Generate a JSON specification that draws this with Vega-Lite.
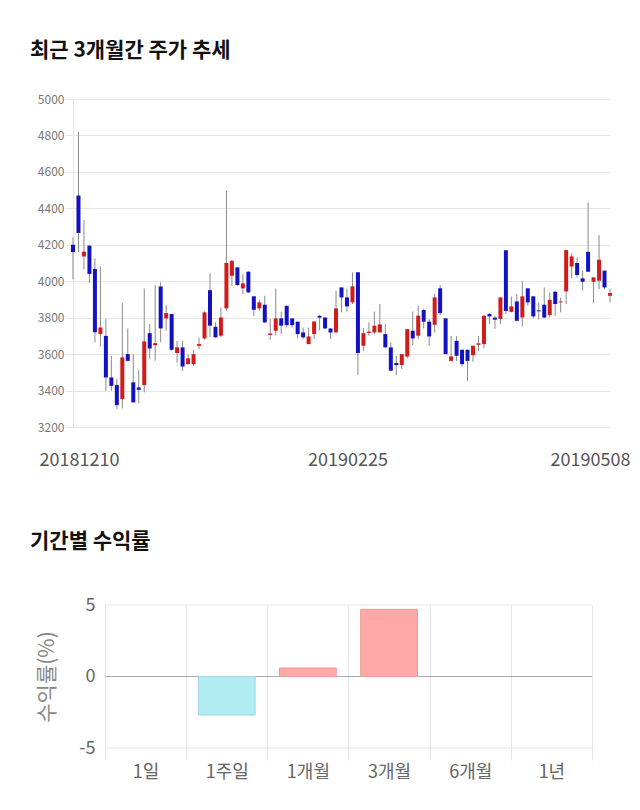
{
  "$schema": "https://vega.github.io/schema/vega-lite/v6.json",
  "background": "white",
  "padding": {"left": 30, "top": 40, "right": 0, "bottom": 0},
  "autosize": {"type": "pad"},
  "spacing": 62,
  "align": "none",
  "config": {
    "view": {"stroke": null},
    "font": "Noto Sans CJK KR",
    "title": {"anchor": "start", "frame": "group", "dx": -43, "fontSize": 21, "fontWeight": "bold", "color": "#111111", "font": "Noto Sans CJK KR"}
  },
  "vconcat": [
    {
      "title": {"text": "최근 3개월간 주가 추세", "offset": 32},
      "width": 537,
      "height": 328,
      "data": {"values": [
        {"d":"20181210","o":4200,"h":4240,"l":4010,"c":4160},
        {"d":"20181211","o":4470,"h":4820,"l":4160,"c":4265},
        {"d":"20181212","o":4136,"h":4335,"l":4065,"c":4162},
        {"d":"20181213","o":4195,"h":4200,"l":3990,"c":4040},
        {"d":"20181214","o":4067,"h":4125,"l":3664,"c":3720},
        {"d":"20181217","o":3710,"h":4081,"l":3642,"c":3746},
        {"d":"20181218","o":3700,"h":3792,"l":3399,"c":3472},
        {"d":"20181219","o":3472,"h":3591,"l":3399,"c":3426},
        {"d":"20181220","o":3430,"h":3463,"l":3298,"c":3320},
        {"d":"20181221","o":3353,"h":3880,"l":3302,"c":3582},
        {"d":"20181224","o":3600,"h":3741,"l":3560,"c":3563},
        {"d":"20181226","o":3445,"h":3600,"l":3335,"c":3335},
        {"d":"20181227","o":3417,"h":3514,"l":3331,"c":3404},
        {"d":"20181228","o":3430,"h":3960,"l":3390,"c":3670},
        {"d":"20190102","o":3715,"h":3765,"l":3576,"c":3631},
        {"d":"20190103","o":3649,"h":3979,"l":3563,"c":3660},
        {"d":"20190104","o":3971,"h":3995,"l":3664,"c":3741},
        {"d":"20190107","o":3796,"h":3870,"l":3728,"c":3825},
        {"d":"20190108","o":3820,"h":3820,"l":3618,"c":3624},
        {"d":"20190109","o":3606,"h":3672,"l":3553,"c":3637},
        {"d":"20190110","o":3637,"h":3673,"l":3508,"c":3532},
        {"d":"20190111","o":3546,"h":3600,"l":3540,"c":3577},
        {"d":"20190114","o":3545,"h":3624,"l":3536,"c":3600},
        {"d":"20190115","o":3645,"h":3690,"l":3628,"c":3655},
        {"d":"20190116","o":3686,"h":3835,"l":3680,"c":3829},
        {"d":"20190117","o":3951,"h":4043,"l":3692,"c":3756},
        {"d":"20190118","o":3750,"h":3774,"l":3690,"c":3692},
        {"d":"20190121","o":3701,"h":3856,"l":3692,"c":3801},
        {"d":"20190122","o":3851,"h":4497,"l":3838,"c":4100},
        {"d":"20190123","o":4030,"h":4115,"l":3975,"c":4112},
        {"d":"20190124","o":4076,"h":4080,"l":3975,"c":3979},
        {"d":"20190125","o":3961,"h":4040,"l":3930,"c":3988},
        {"d":"20190128","o":4052,"h":4055,"l":3935,"c":3939},
        {"d":"20190129","o":3917,"h":3917,"l":3810,"c":3843},
        {"d":"20190130","o":3851,"h":3898,"l":3838,"c":3884},
        {"d":"20190131","o":3871,"h":3920,"l":3770,"c":3774},
        {"d":"20190201","o":3705,"h":3792,"l":3679,"c":3713},
        {"d":"20190207","o":3728,"h":3960,"l":3704,"c":3796},
        {"d":"20190208","o":3796,"h":3833,"l":3710,"c":3756},
        {"d":"20190211","o":3865,"h":3866,"l":3746,"c":3759},
        {"d":"20190212","o":3796,"h":3797,"l":3746,"c":3759},
        {"d":"20190213","o":3778,"h":3779,"l":3686,"c":3710},
        {"d":"20190214","o":3719,"h":3746,"l":3683,"c":3692},
        {"d":"20190215","o":3655,"h":3746,"l":3655,"c":3697},
        {"d":"20190218","o":3710,"h":3779,"l":3683,"c":3779},
        {"d":"20190219","o":3810,"h":3815,"l":3730,"c":3800},
        {"d":"20190220","o":3801,"h":3801,"l":3736,"c":3741},
        {"d":"20190221","o":3741,"h":3741,"l":3683,"c":3719},
        {"d":"20190222","o":3719,"h":3948,"l":3719,"c":3851},
        {"d":"20190225","o":3966,"h":3966,"l":3829,"c":3911},
        {"d":"20190226","o":3911,"h":3960,"l":3833,"c":3862},
        {"d":"20190227","o":3884,"h":4049,"l":3875,"c":3972},
        {"d":"20190228","o":4049,"h":4049,"l":3485,"c":3606},
        {"d":"20190304","o":3646,"h":3741,"l":3618,"c":3715},
        {"d":"20190305","o":3716,"h":3774,"l":3701,"c":3723},
        {"d":"20190306","o":3719,"h":3833,"l":3710,"c":3756},
        {"d":"20190307","o":3719,"h":3875,"l":3719,"c":3763},
        {"d":"20190308","o":3710,"h":3765,"l":3637,"c":3637},
        {"d":"20190311","o":3637,"h":3664,"l":3509,"c":3509},
        {"d":"20190312","o":3551,"h":3591,"l":3485,"c":3540},
        {"d":"20190313","o":3540,"h":3600,"l":3518,"c":3600},
        {"d":"20190314","o":3587,"h":3737,"l":3576,"c":3737},
        {"d":"20190315","o":3728,"h":3833,"l":3650,"c":3686},
        {"d":"20190318","o":3701,"h":3865,"l":3683,"c":3811},
        {"d":"20190319","o":3842,"h":3848,"l":3741,"c":3778},
        {"d":"20190320","o":3778,"h":3792,"l":3646,"c":3697},
        {"d":"20190321","o":3761,"h":3930,"l":3719,"c":3911},
        {"d":"20190322","o":3961,"h":3979,"l":3814,"c":3825},
        {"d":"20190325","o":3796,"h":3796,"l":3600,"c":3600},
        {"d":"20190326","o":3563,"h":3700,"l":3563,"c":3587},
        {"d":"20190327","o":3673,"h":3700,"l":3563,"c":3591},
        {"d":"20190328","o":3624,"h":3624,"l":3532,"c":3545},
        {"d":"20190329","o":3624,"h":3624,"l":3454,"c":3563},
        {"d":"20190401","o":3594,"h":3646,"l":3558,"c":3646},
        {"d":"20190402","o":3651,"h":3700,"l":3620,"c":3659},
        {"d":"20190403","o":3655,"h":3814,"l":3632,"c":3810},
        {"d":"20190404","o":3820,"h":3825,"l":3765,"c":3807},
        {"d":"20190405","o":3800,"h":3810,"l":3738,"c":3789},
        {"d":"20190408","o":3793,"h":3911,"l":3765,"c":3911},
        {"d":"20190409","o":4170,"h":4170,"l":3820,"c":3837},
        {"d":"20190410","o":3832,"h":3917,"l":3829,"c":3862},
        {"d":"20190411","o":3889,"h":3930,"l":3778,"c":3783},
        {"d":"20190412","o":3801,"h":3999,"l":3752,"c":3917},
        {"d":"20190415","o":3961,"h":3961,"l":3866,"c":3884},
        {"d":"20190416","o":3917,"h":3917,"l":3796,"c":3807},
        {"d":"20190417","o":3840,"h":3884,"l":3790,"c":3835},
        {"d":"20190418","o":3871,"h":3966,"l":3796,"c":3801},
        {"d":"20190419","o":3814,"h":3938,"l":3801,"c":3898},
        {"d":"20190422","o":3942,"h":3948,"l":3810,"c":3875},
        {"d":"20190423","o":3884,"h":3911,"l":3829,"c":3889},
        {"d":"20190424","o":3944,"h":4171,"l":3875,"c":4171},
        {"d":"20190425","o":4081,"h":4154,"l":4016,"c":4136},
        {"d":"20190426","o":4100,"h":4131,"l":4020,"c":4034},
        {"d":"20190429","o":4016,"h":4059,"l":3948,"c":3997},
        {"d":"20190430","o":4161,"h":4432,"l":4052,"c":4052},
        {"d":"20190502","o":3997,"h":4021,"l":3880,"c":4021},
        {"d":"20190503","o":4003,"h":4253,"l":3956,"c":4118},
        {"d":"20190507","o":4058,"h":4058,"l":3956,"c":3966},
        {"d":"20190508","o":3920,"h":3960,"l":3884,"c":3935}
      ]},
      "encoding": {
        "x": {
          "field": "d", "type": "ordinal", "sort": null,
          "scale": {"type": "point", "padding": 0},
          "axis": {
            "title": null, "values": ["20181210", "20190225", "20190508"],
            "labelAngle": 0, "domain": false, "ticks": false, "grid": false,
            "labelFontSize": 18, "labelColor": "#555555", "labelPadding": 24,
            "labelFont": "Noto Sans CJK KR", "labelOverlap": false, "labelBound": false,
            "labelOffset": {"expr": "datum.value == '20190508' ? -20 : 6"}
          }
        }
      },
      "layer": [
        {
          "mark": {"type": "rule", "color": "#8a8a8a", "strokeWidth": 1},
          "encoding": {
            "y": {
              "field": "l", "type": "quantitative",
              "scale": {"domain": [3200, 5000], "nice": false, "zero": false},
              "axis": {
                "title": null, "values": [3200, 3400, 3600, 3800, 4000, 4200, 4400, 4600, 4800, 5000],
                "format": "d", "labelFontSize": 12, "labelColor": "#777777", "labelOverlap": false,
                "gridColor": "#e6e6e6", "domainColor": "#e6e6e6", "tickColor": "#e6e6e6",
                "tickSize": 8, "labelPadding": 1, "minExtent": 43, "maxExtent": 43
              }
            },
            "y2": {"field": "h"}
          }
        },
        {
          "mark": {"type": "bar", "size": 4},
          "encoding": {
            "y": {
              "field": "o", "type": "quantitative",
              "scale": {"domain": [3200, 5000], "nice": false, "zero": false},
              "axis": {
                "title": null, "values": [3200, 3400, 3600, 3800, 4000, 4200, 4400, 4600, 4800, 5000],
                "format": "d", "labelFontSize": 12, "labelColor": "#777777", "labelOverlap": false,
                "gridColor": "#e6e6e6", "domainColor": "#e6e6e6", "tickColor": "#e6e6e6",
                "tickSize": 8, "labelPadding": 1, "minExtent": 43, "maxExtent": 43
              }
            },
            "y2": {"field": "c"},
            "color": {"condition": {"test": "datum.c >= datum.o", "value": "#d21c1c"}, "value": "#1212c2"}
          }
        }
      ]
    },
    {
      "title": {"text": "기간별 수익률", "offset": 44},
      "width": 519,
      "height": 143,
      "encoding": {
        "x": {
          "field": "p", "type": "nominal", "sort": null,
          "scale": {"domain": ["1일", "1주일", "1개월", "3개월", "6개월", "1년"], "paddingInner": 0, "paddingOuter": 0.197, "align": 1},
          "axis": {
            "title": null, "labelAngle": 0, "domain": false,
            "tickBand": "extent", "ticks": true, "tickSize": 12, "tickColor": "#e6e6e6",
            "grid": true, "gridColor": "#e6e6e6",
            "labelFontSize": 18, "labelColor": "#666666", "labelPadding": 3
          }
        }
      },
      "layer": [
        {
          "data": {"values": [{"g": -5}, {"g": 0}, {"g": 5}]},
          "mark": {"type": "rule", "strokeWidth": 1},
          "encoding": {
            "x": {"datum": "1일", "bandPosition": 0},
            "x2": {"datum": "1년", "bandPosition": 1},
            "y": {
              "field": "g", "type": "quantitative",
              "scale": {"domain": [-5, 5], "nice": false},
              "axis": {
                "title": "수익률(%)", "titleFontSize": 21, "titleFontWeight": "normal", "titleColor": "#888888",
                "titlePadding": 18, "offset": -32, "grid": false,
                "values": [-5, 0, 5], "labelFontSize": 18, "labelColor": "#666666",
                "labelExpr": "datum.value + ''",
                "domain": false, "ticks": false, "labelPadding": 10,
                "minExtent": 30, "maxExtent": 30
              }
            },
            "color": {"condition": {"test": "datum.g == 0", "value": "#aaaaaa"}, "value": "#e6e6e6"}
          }
        },
        {
          "data": {"values": [
            {"p": "1일", "v": 0},
            {"p": "1주일", "v": -2.7},
            {"p": "1개월", "v": 0.6},
            {"p": "3개월", "v": 4.7},
            {"p": "6개월", "v": 0},
            {"p": "1년", "v": 0}
          ]},
          "mark": {"type": "bar", "strokeWidth": 1, "width": {"band": 0.7}},
          "encoding": {
            "y": {
              "field": "v", "type": "quantitative",
              "scale": {"domain": [-5, 5], "nice": false},
              "axis": {
                "title": "수익률(%)", "titleFontSize": 21, "titleFontWeight": "normal", "titleColor": "#888888",
                "titlePadding": 18, "offset": -32, "grid": false,
                "values": [-5, 0, 5], "labelFontSize": 18, "labelColor": "#666666",
                "labelExpr": "datum.value + ''",
                "domain": false, "ticks": false, "labelPadding": 10,
                "minExtent": 30, "maxExtent": 30
              }
            },
            "color": {"condition": {"test": "datum.v < 0", "value": "#b1ebf3"}, "value": "#ffa8a8"},
            "stroke": {"condition": [{"test": "datum.v < 0", "value": "#a3d6de"}, {"test": "datum.v > 0", "value": "#ee9c9c"}], "value": null}
          }
        }
      ]
    }
  ]
}
